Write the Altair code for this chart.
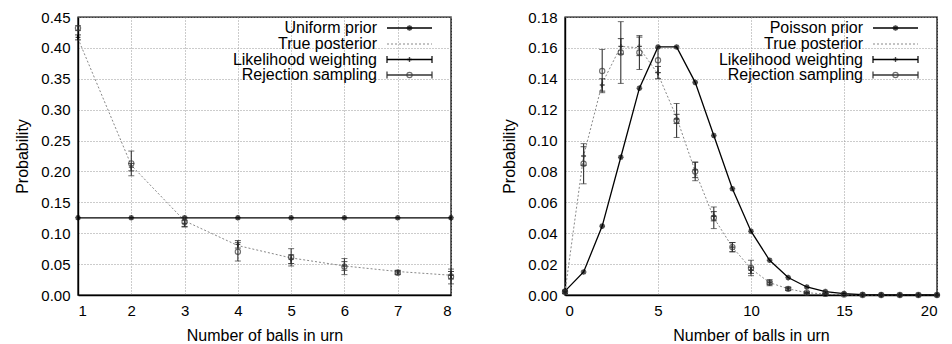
import altair as alt
import pandas as pd

FONT = "Liberation Sans"

# ---------------- Left panel data (uniform prior) ----------------
left_x = [1, 2, 3, 4, 5, 6, 7, 8]
left_prior = [0.125, 0.125, 0.125, 0.125, 0.125, 0.125, 0.125, 0.125]
left_true = [0.415, 0.21, 0.12, 0.08, 0.06, 0.047, 0.038, 0.032]
left_lw = [0.417, 0.207, 0.116, 0.082, 0.058, 0.047, 0.037, 0.032]
left_lw_err = [0.004, 0.006, 0.005, 0.006, 0.007, 0.007, 0.003, 0.006]
left_rs = [0.432, 0.213, 0.118, 0.07, 0.061, 0.046, 0.036, 0.03]
left_rs_err = [0.004, 0.02, 0.008, 0.015, 0.014, 0.013, 0.003, 0.012]
left_labels = ["Uniform prior", "True posterior", "Likelihood weighting", "Rejection sampling"]
left_yticks = [0, 0.05, 0.1, 0.15, 0.2, 0.25, 0.3, 0.35, 0.4, 0.45]

# ---------------- Right panel data (Poisson prior) ----------------
right_x = list(range(0, 21))
right_prior = [0.0025, 0.0149, 0.0446, 0.0892, 0.1339, 0.1606, 0.1606, 0.1377, 0.1033,
               0.0688, 0.0413, 0.0225, 0.0113, 0.0052, 0.0022, 0.0009, 0.0003, 0.0001,
               0.0, 0.0, 0.0]
right_true = [0.002, 0.09, 0.137, 0.161, 0.160, 0.143, 0.115, 0.08, 0.05, 0.031, 0.017,
              0.008, 0.004, 0.0015, 0.0006, 0.0002, 0.0, 0.0, 0.0, 0.0, 0.0]
right_lw = [0.002, 0.09, 0.136, 0.161, 0.161, 0.144, 0.114, 0.081, 0.051, 0.031, 0.016,
            0.008, 0.004, 0.0015, 0.0007, 0.0003, 0.0, 0.0, 0.0, 0.0, 0.0]
right_lw_err = [0.001, 0.006, 0.004, 0.005, 0.006, 0.004, 0.003, 0.005, 0.003, 0.003, 0.002,
                0.001, 0.001, 0.0005, 0.0003, 0.0002, 0.0, 0.0, 0.0, 0.0, 0.0]
right_rs = [0.002, 0.085, 0.145, 0.157, 0.157, 0.152, 0.113, 0.08, 0.05, 0.031, 0.0175,
            0.008, 0.004, 0.0015, 0.0007, 0.0003, 0.0, 0.0, 0.0, 0.0, 0.0]
right_rs_err = [0.001, 0.013, 0.014, 0.02, 0.011, 0.008, 0.011, 0.006, 0.007, 0.003, 0.005,
                0.002, 0.001, 0.0005, 0.0003, 0.0002, 0.0, 0.0, 0.0, 0.0, 0.0]
right_labels = ["Poisson prior", "True posterior", "Likelihood weighting", "Rejection sampling"]
right_xticks = [0, 5, 10, 15, 20]
right_yticks = [0, 0.02, 0.04, 0.06, 0.08, 0.1, 0.12, 0.14, 0.16, 0.18]

ASTERISK = "M-1,0L1,0M0,-1L0,1M-0.7,-0.7L0.7,0.7M-0.7,0.7L0.7,-0.7"
PLUS = "M-1,0L1,0M0,-1L0,1"


def panel(xs, prior, true, lw, lw_err, rs, rs_err, labels, xdom, xticks, ydom, yticks, w, h):
    df = pd.DataFrame({
        "x": xs, "prior": prior, "true": true,
        "lw": lw, "lw_lo": [a - b for a, b in zip(lw, lw_err)], "lw_hi": [a + b for a, b in zip(lw, lw_err)],
        "rs": rs, "rs_lo": [a - b for a, b in zip(rs, rs_err)], "rs_hi": [a + b for a, b in zip(rs, rs_err)],
    })
    xscale = alt.Scale(domain=xdom, nice=False, zero=False)
    yscale = alt.Scale(domain=ydom, nice=False)
    xaxis = alt.Axis(values=xticks, format="d", title="Number of balls in urn")
    yaxis = alt.Axis(values=yticks, format=".2f", title="Probability")

    def X():
        return alt.X("x:Q", scale=xscale, axis=xaxis)

    def Y(f):
        return alt.Y(f, scale=yscale, axis=yaxis)

    base = alt.Chart(df)

    true_line = base.mark_line(color="#888888", strokeWidth=1, strokeDash=[2, 2]).encode(
        x=X(), y=Y("true:Q"))
    prior_line = base.mark_line(color="black", strokeWidth=1.3).encode(x=X(), y=Y("prior:Q"))
    prior_pts = base.mark_point(shape=ASTERISK, size=32, color="black", strokeWidth=1.6,
                                filled=False).encode(x=X(), y=Y("prior:Q"))
    lw_rule = base.mark_rule(color="black", strokeWidth=1.2).encode(
        x=X(), y=Y("lw_lo:Q"), y2="lw_hi:Q")
    lw_cap_lo = base.mark_tick(color="black", orient="horizontal", size=6, thickness=1).encode(
        x=X(), y=Y("lw_lo:Q"))
    lw_cap_hi = base.mark_tick(color="black", orient="horizontal", size=6, thickness=1).encode(
        x=X(), y=Y("lw_hi:Q"))
    lw_pts = base.mark_point(shape=PLUS, size=24, color="black", strokeWidth=1.4,
                             filled=False).encode(x=X(), y=Y("lw:Q"))
    rs_rule = base.mark_rule(color="#333333", strokeWidth=1.1).encode(
        x=X(), y=Y("rs_lo:Q"), y2="rs_hi:Q")
    rs_cap_lo = base.mark_tick(color="#333333", orient="horizontal", size=6, thickness=1).encode(
        x=X(), y=Y("rs_lo:Q"))
    rs_cap_hi = base.mark_tick(color="#333333", orient="horizontal", size=6, thickness=1).encode(
        x=X(), y=Y("rs_hi:Q"))
    rs_pts = base.mark_point(shape="circle", size=28, color="#333333", strokeWidth=1.1,
                             filled=False).encode(x=X(), y=Y("rs:Q"))

    layers = [true_line, prior_line, prior_pts, lw_rule, lw_cap_lo, lw_cap_hi, lw_pts,
              rs_rule, rs_cap_lo, rs_cap_hi, rs_pts]

    # legend (top-right, inside plot)
    one = pd.DataFrame({"k": [0]})
    row_y = [11, 27, 42.5, 58]
    tx, s1, s2 = w - 74, w - 64, w - 19
    mid = (s1 + s2) / 2
    for i, lab in enumerate(labels):
        yy = row_y[i]
        layers.append(alt.Chart(one).mark_text(align="right", baseline="middle", font=FONT,
                                               fontSize=16, color="black", text=lab).encode(
            x=alt.value(tx), y=alt.value(yy)))
        if i == 1:
            layers.append(alt.Chart(one).mark_rule(color="#888888", strokeWidth=1,
                                                   strokeDash=[2, 2]).encode(
                x=alt.value(s1), x2=alt.value(s2), y=alt.value(yy)))
        else:
            layers.append(alt.Chart(one).mark_rule(color="black" if i != 3 else "#333333",
                                                   strokeWidth=1.3).encode(
                x=alt.value(s1), x2=alt.value(s2), y=alt.value(yy)))
        if i == 0:
            layers.append(alt.Chart(one).mark_point(shape=ASTERISK, size=32, color="black",
                                                    strokeWidth=1.6, filled=False).encode(
                x=alt.value(mid), y=alt.value(yy)))
        if i in (2, 3):
            col = "black" if i == 2 else "#333333"
            for ex in (s1, s2):
                layers.append(alt.Chart(one).mark_rule(color=col, strokeWidth=1.2).encode(
                    x=alt.value(ex), y=alt.value(yy - 3.5), y2=alt.value(yy + 3.5)))
            if i == 2:
                layers.append(alt.Chart(one).mark_point(shape=PLUS, size=24, color=col,
                                                        strokeWidth=1.4, filled=False).encode(
                    x=alt.value(mid), y=alt.value(yy)))
            else:
                layers.append(alt.Chart(one).mark_point(shape="circle", size=28, color=col,
                                                        strokeWidth=1.1, filled=False).encode(
                    x=alt.value(mid), y=alt.value(yy)))

    return alt.layer(*layers).properties(width=w, height=h)


left = panel(left_x, left_prior, left_true, left_lw, left_lw_err, left_rs, left_rs_err,
             left_labels, [1, 8], left_x, [0, 0.45], left_yticks, 373, 278)
right = panel(right_x, right_prior, right_true, right_lw, right_lw_err, right_rs, right_rs_err,
              right_labels, [0, 20], right_xticks, [0, 0.18], right_yticks, 372, 278)

chart = alt.hconcat(left, right, spacing=43).properties(
    padding={"left": 6, "top": 1, "right": 0, "bottom": 0}
).configure_view(
    stroke="black", strokeWidth=1.4
).configure_axis(
    labelFont=FONT, titleFont=FONT, labelFontSize=15, titleFontSize=16,
    titleFontWeight="normal", labelColor="black", titleColor="black",
    grid=True, gridColor="#999999", gridDash=[1, 2], gridWidth=1,
    domainColor="black", domainWidth=1.4, ticks=False, labelPadding=8,
    titlePadding=9, labelOverlap=False
).configure_axisY(titlePadding=10)

chart.save("out.html", embed_options={"renderer": "svg", "actions": False})
